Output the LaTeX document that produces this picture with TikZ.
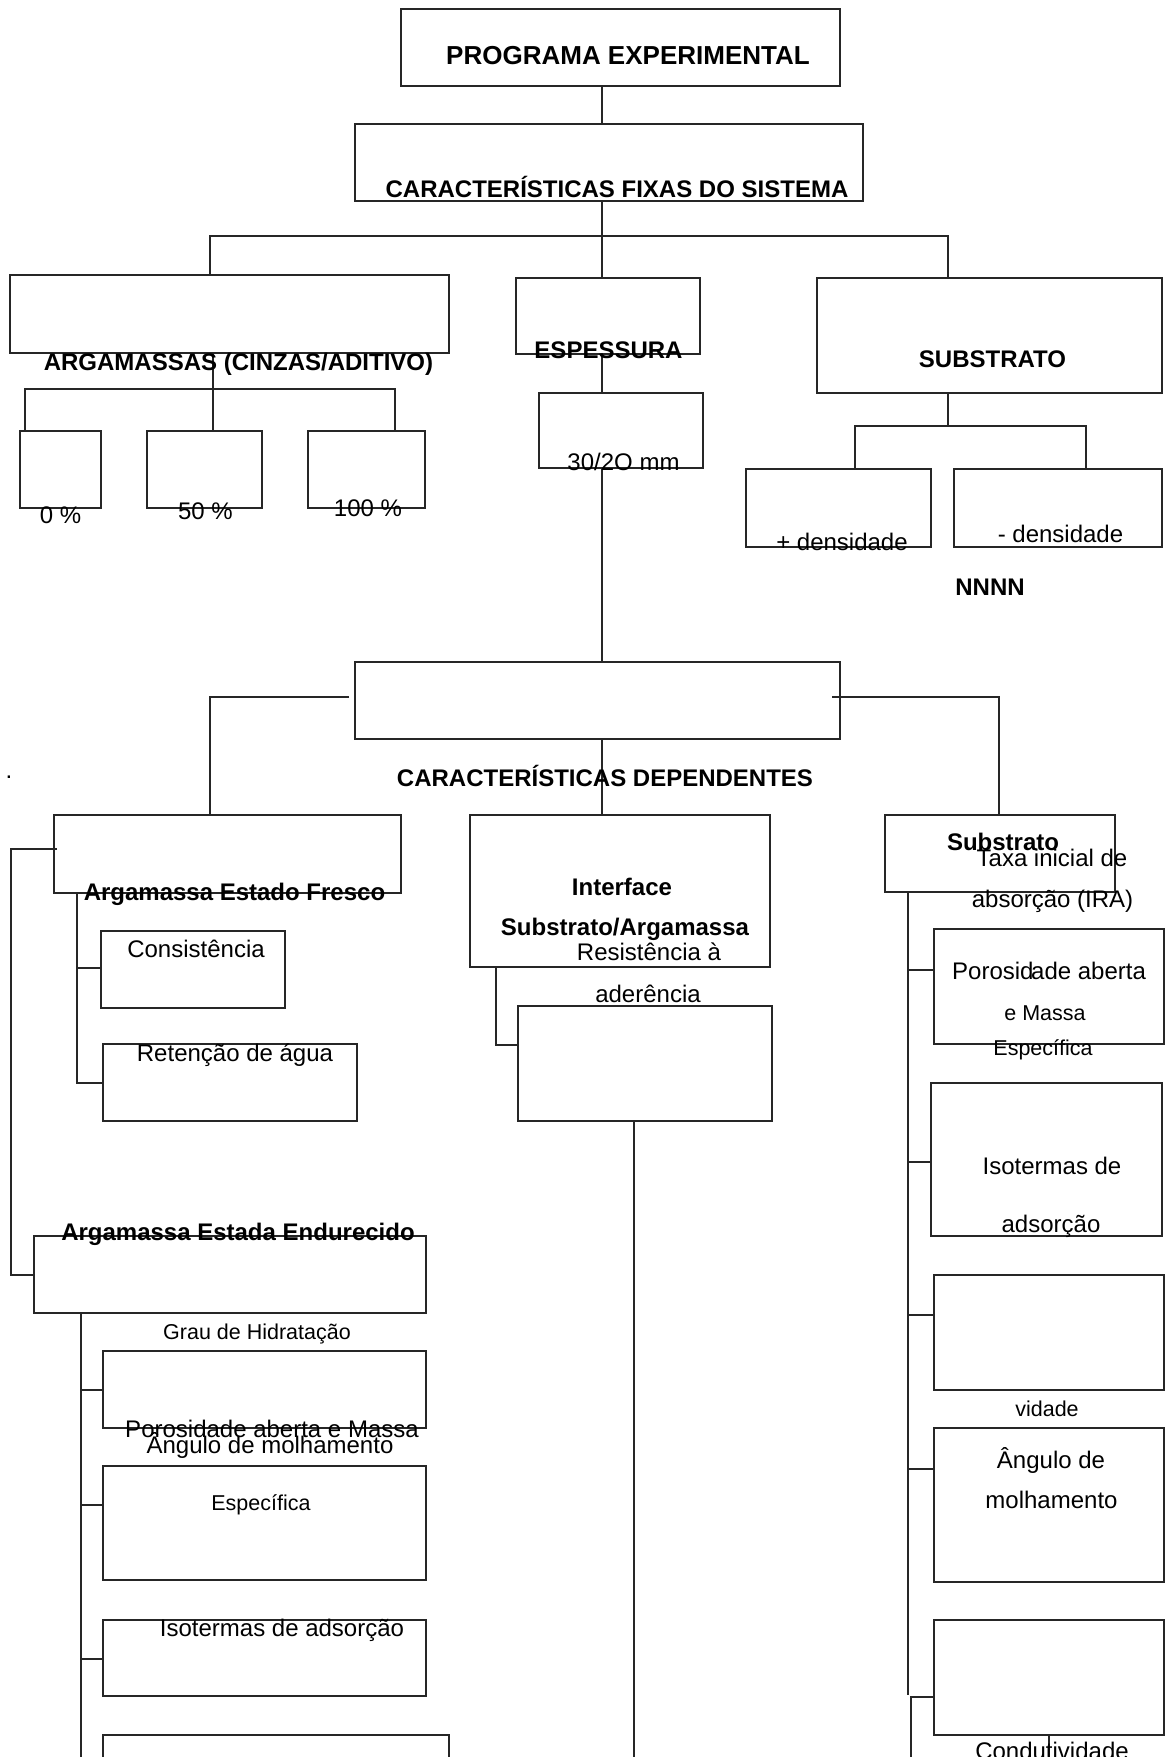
\documentclass[tikz,border=0pt]{standalone}
\usepackage{fontspec}
\setmainfont{Liberation Sans}
\begin{document}
\begin{tikzpicture}[x=1pt,y=-1pt,
  bxs/.style={draw=black!85,line width=1.2pt,inner sep=0pt,outer sep=0pt,rectangle},
  ln/.style={draw=black!85,line width=1.2pt},
  tb/.style={font=\fontsize{24}{28}\selectfont\bfseries,inner sep=0pt,anchor=base},
  tr/.style={font=\fontsize{24}{28}\selectfont,inner sep=0pt,anchor=base},
  ts/.style={font=\fontsize{21.5}{25}\selectfont,inner sep=0pt,anchor=base}]
\newcommand\bx[5]{\node[bxs,minimum width={(#4-#2)*1pt},minimum height={(#5-#3)*1pt}] (#1) at ({(#2+#4)/2},{(#3+#5)/2}) {};}
\useasboundingbox (0,0) rectangle (1168,1757);
\clip (0,0) rectangle (1168,1757);
\fill[white] (0,0) rectangle (1168,1757);
% boxes
\bx{pe}{401}{9}{840}{86}
\bx{cfs}{355}{124}{863}{201}
\bx{arg}{10}{275}{449}{353}
\bx{esp}{516}{278}{700}{354}
\bx{sub}{817}{278}{1162}{393}
\bx{pz}{20}{431}{101}{508}
\bx{pf}{147}{431}{262}{508}
\bx{ph}{308}{431}{425}{508}
\bx{mm}{539}{393}{703}{468}
\bx{dplus}{746}{469}{931}{547}
\bx{dminus}{954}{469}{1162}{547}
\bx{cd}{355}{662}{840}{739}
\bx{aef}{54}{815}{401}{893}
\bx{inter}{470}{815}{770}{967}
\bx{subd}{885}{815}{1115}{892}
\bx{cons}{101}{931}{285}{1008}
\bx{ret}{103}{1044}{357}{1121}
\bx{res}{518}{1006}{772}{1121}
\bx{por}{934}{929}{1164}{1044}
\bx{iso}{931}{1083}{1162}{1236}
\bx{cond}{934}{1275}{1164}{1390}
\bx{ang}{934}{1428}{1164}{1582}
\bx{last}{934}{1620}{1164}{1735}
\bx{aee}{34}{1236}{426}{1313}
\bx{gh}{103}{1351}{426}{1428}
\bx{pme}{103}{1466}{426}{1580}
\bx{isol}{103}{1620}{426}{1696}
\bx{lastl}{103}{1735}{449}{1810}
% connectors
\coordinate (xa) at (602,236);
\coordinate (ja1) at (210,236);
\coordinate (ja2) at (948,236);
\draw[ln] (pe.south -| xa) -- (cfs.north -| xa);
\draw[ln] (cfs.south -| xa) -- (esp.north -| xa);
\draw[ln] (arg.north -| ja1) -- (ja1) -- (ja2) -- (sub.north -| ja2);
\coordinate (jb) at (213,389);
\coordinate (jb1) at (25,389);
\coordinate (jb2) at (395,389);
\draw[ln] (arg.south -| jb) -- (pf.north -| jb);
\draw[ln] (pz.north -| jb1) -- (jb1) -- (jb2) -- (ph.north -| jb2);
\draw[ln] (esp.south -| xa) -- (mm.north -| xa);
\draw[ln] (mm.south -| xa) -- (cd.north -| xa);
\coordinate (jc) at (948,426);
\coordinate (jc1) at (855,426);
\coordinate (jc2) at (1086,426);
\draw[ln] (sub.south -| jc) -- (jc);
\draw[ln] (dplus.north -| jc1) -- (jc1) -- (jc2) -- (dminus.north -| jc2);
\coordinate (jd1) at (349,697);
\coordinate (jd2) at (210,697);
\draw[ln] (jd1) -- (jd2) -- (aef.north -| jd2);
\coordinate (je1) at (832,697);
\coordinate (je2) at (999,697);
\draw[ln] (je1) -- (je2) -- (subd.north -| je2);
\draw[ln] (cd.south -| xa) -- (inter.north -| xa);
\coordinate (jf0) at (57,849);
\coordinate (jf1) at (11,849);
\coordinate (jf2) at (11,1275);
\draw[ln] (jf0) -- (jf1) -- (jf2) -- (aee.west |- jf2);
\coordinate (jg) at (77,968);
\coordinate (jg2) at (77,1083);
\draw[ln] (aef.south -| jg) -- (jg2) -- (ret.west |- jg2);
\draw[ln] (jg) -- (cons.west |- jg);
\coordinate (jh) at (496,1045);
\draw[ln] (inter.south -| jh) -- (jh) -- (res.west |- jh);
\coordinate (ji) at (634,1800);
\draw[ln] (res.south -| ji) -- (ji);
\coordinate (jk) at (908,1695);
\draw[ln] (subd.south -| jk) -- (jk);
\coordinate (jk1) at (908,970);
\coordinate (jk2) at (908,1162);
\coordinate (jk3) at (908,1315);
\coordinate (jk4) at (908,1469);
\draw[ln] (jk1) -- (por.west |- jk1);
\draw[ln] (jk2) -- (iso.west |- jk2);
\draw[ln] (jk3) -- (cond.west |- jk3);
\draw[ln] (jk4) -- (ang.west |- jk4);
\coordinate (jl) at (911,1697);
\coordinate (jl2) at (911,1800);
\draw[ln] (jl2) -- (jl) -- (last.west |- jl);
\coordinate (jm) at (1049,1760);
\draw[ln] (last.south -| jm) -- (jm);
\coordinate (jn) at (81,1800);
\draw[ln] (aee.south -| jn) -- (jn);
\coordinate (jn1) at (81,1390);
\coordinate (jn2) at (81,1505);
\coordinate (jn3) at (81,1659);
\draw[ln] (jn1) -- (gh.west |- jn1);
\draw[ln] (jn2) -- (pme.west |- jn2);
\draw[ln] (jn3) -- (isol.west |- jn3);
% texts
\node[tb,font=\fontsize{26}{30}\selectfont\bfseries] (t1) at (628,64) {PROGRAMA EXPERIMENTAL};
\node[tb] (t2) at (617,197) {CARACTERÍSTICAS FIXAS DO SISTEMA};
\node[tb] (t3) at (238.5,370) {ARGAMASSAS (CINZAS/ADITIVO)};
\node[tb] (t4) at (608.5,358) {ESPESSURA};
\node[tb] (t5) at (992.5,367) {SUBSTRATO};
\node[tr] (t6) at (60.5,523) {0 \%};
\node[tr] (t7) at (205.5,519) {50 \%};
\node[tr] (t8) at (368,516) {100 \%};
\node[tr] (t9) at (623.5,470) {30/2O mm};
\node[tr] (t10) at (842,550) {+ densidade};
\node[tr] (t11) at (1060.5,542) {- densidade};
\node[tb] (t12) at (990,595) {NNNN};
\node[tb] (t13) at (605,786) {CARACTERÍSTICAS DEPENDENTES};
\node[tr] (t14) at (9,778) {.};
\node[tb] (t15) at (234.5,900) {Argamassa Estado Fresco};
\node[tb] (t16) at (622,895) {Interface};
\node[tb] (t17) at (625,935) {Substrato/Argamassa};
\node[tb] (t18) at (1003,850) {Substrato};
\node[tr] (t19) at (1052,866) {Taxa inicial de};
\node[tr] (t20) at (1052.5,907) {absorção (IRA)};
\node[tr] (t21) at (196,957) {Consistência};
\node[tr] (t22) at (649,960) {Resistência à};
\node[tr] (t23) at (648,1002) {aderência};
\node[tr] (t24) at (235,1061) {Retenção de água};
\node[tr,anchor=base west] (t25) at (952,979) {Porosid};
\node[tr,anchor=base west] (t26) at (1031,979) {ade aberta};
\node[ts] (t27) at (1045,1020) {e Massa};
\node[ts] (t28) at (1043,1055) {Específica};
\node[tr] (t29) at (1052,1174) {Isotermas de};
\node[tr] (t30) at (1051,1232) {adsorção};
\node[tb] (t31) at (238,1240) {Argamassa Estada Endurecido};
\node[ts] (t32) at (257,1339) {Grau de Hidratação};
\node[ts] (t33) at (1047,1416) {vidade};
\node[tr] (t34) at (272,1437) {Porosidade aberta e Massa};
\node[tr] (t35) at (1051,1468) {Ângulo de};
\node[tr] (t36) at (270,1453) {Ângulo de molhamento};
\node[tr] (t37) at (1051.5,1508) {molhamento};
\node[ts] (t38) at (261,1510) {Específica};
\node[tr] (t39) at (282,1636) {Isotermas de adsorção};
\node[tr] (t40) at (1052,1759) {Condutividade};
\end{tikzpicture}
\end{document}
